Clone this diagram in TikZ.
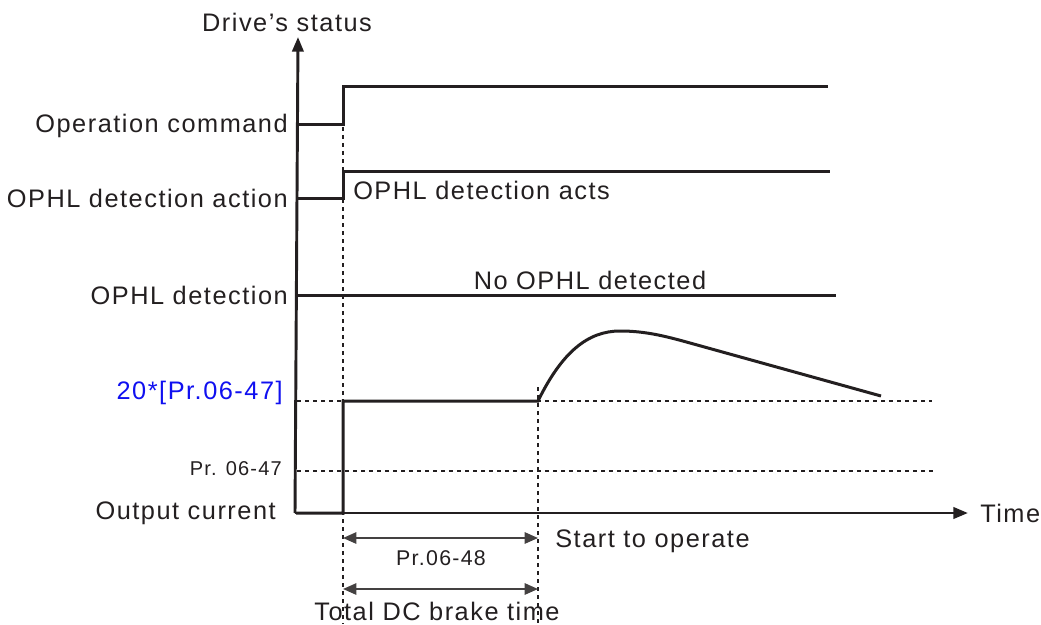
\documentclass[tikz,border=0pt]{standalone}
\usepackage{fontspec}
\setmainfont{Liberation Sans}[LetterSpace=6]
\usetikzlibrary{arrows.meta}
\definecolor{ink}{HTML}{231F20}
\definecolor{lblue}{HTML}{1010F0}
\tikzset{
  sig/.style={draw=ink, line width=2.25pt, line join=miter},
  axis/.style={draw=ink, line width=2.2pt, -{Triangle[length=11pt,width=8.5pt]}},
  guide/.style={draw=ink, line width=1.1pt, dash pattern=on 3pt off 3pt},
  dim/.style={draw=ink!85, line width=1.3pt, {Triangle[length=10pt,width=8.5pt]}-{Triangle[length=10pt,width=8.5pt]}},
  lbl/.style={text=ink, inner sep=0pt, font=\fontsize{19}{22}\selectfont},
  slbl/.style={text=ink, inner sep=0pt, font=\fontsize{15}{18}\selectfont},
}
\begin{document}
\begin{tikzpicture}[x=0.75pt,y=-0.75pt]
\useasboundingbox (0,0) rectangle (1041,624);
% axes
\coordinate (O) at (295,513);
\coordinate (Ytop) at (298,37);
\coordinate (Xend) at (968,513);
\draw[axis] (O) -- (Ytop);
\draw[axis] (O) -- (Xend);
\node[lbl] (ylab) at (287,22) {Drive's status};
\node[lbl, anchor=west] (xlab) at (980,513) {Time};
% guides
\coordinate (g1t) at (343,127);
\coordinate (g1b) at (343,624);
\coordinate (g2t) at (538,387);
\coordinate (g2b) at (538,624);
\draw[guide] (g1t) -- (g1b);
\draw[guide] (g2t) -- (g2b);
\coordinate (h1a) at (297,401);
\coordinate (h1b) at (932,401);
\coordinate (h2a) at (297,471);
\coordinate (h2b) at (936,471);
\draw[guide] (h1a) -- (h1b);
\draw[guide] (h2a) -- (h2b);
% operation command
\draw[sig] (296,125) -- (343,125) -- (343,87) -- (828,87);
\node[lbl, anchor=east] (l1) at (288,126) {Operation command};
% OPHL detection action
\draw[sig] (296,198) -- (343,198) -- (343,171) -- (830,171);
\node[lbl, anchor=east] (l2) at (288,198) {OPHL detection action};
\node[lbl, anchor=west] (t2) at (353,190) {OPHL detection acts};
% OPHL detection
\draw[sig] (296,295) -- (836,295);
\node[lbl, anchor=east] (l3) at (288,295) {OPHL detection};
\node[lbl] (t3) at (590,280) {No OPHL detected};
% output current
\draw[sig] (296,513) -- (343,513) -- (343,401) -- (538,401)
  .. controls (562,352) and (588,331) .. (620,331)
  .. controls (645,331) and (665,336) .. (690,343) -- (881,396);
\node[lbl, anchor=east, text=lblue] (l4) at (283,393) {20*[Pr.06-47]};
\node[slbl, anchor=east] (l5) at (282,469) {Pr. 06-47};
\node[lbl, anchor=east] (l6) at (276,513) {Output current};
% dimensions
\coordinate (d1a) at (343,538);
\coordinate (d1b) at (538,538);
\coordinate (d2a) at (343,589);
\coordinate (d2b) at (538,589);
\draw[dim] (d1a) -- (d1b);
\draw[dim] (d2a) -- (d2b);
\node[slbl, font=\fontsize{16}{19}\selectfont] (p48) at (441,558) {Pr.06-48};
\node[lbl] (tdc) at (437,611) {Total DC brake time};
\node[lbl, anchor=west] (sto) at (555,541) {Start to operate};
\end{tikzpicture}
\end{document}
